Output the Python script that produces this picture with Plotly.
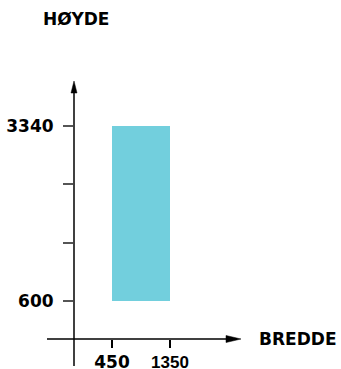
import plotly.graph_objects as go

# data
x_start = [450]
x_end = [1350]
y_start = [600]
y_end = [3340]
x_tick_vals = [450, 1350]
x_tick_text = ["<b>450</b>", '<span style="font-family:Liberation Sans"><b>1350</b></span>']
y_tick_vals = [600, 1513, 2427, 3340]
y_tick_text = ["<b>600</b>", "", "", "<b>3340</b>"]
x_title = "BREDDE"
y_title = "HØYDE"

W, H = 341, 369
# plot area in window pixels
PX0, PX1, PY0, PY1 = 74, 241, 81, 339
L, R, T, B = PX0, W - PX1, PY0, H - PY1
pw, ph = PX1 - PX0, PY1 - PY0


def px(x):
    return (x - PX0) / pw


def py(y):
    return (PY1 - y) / ph


centers = [(a + b) / 2 for a, b in zip(x_start, x_end)]
widths = [b - a for a, b in zip(x_start, x_end)]
heights = [b - a for a, b in zip(y_start, y_end)]

fig = go.Figure()
fig.add_trace(go.Bar(x=centers, y=heights, base=y_start, width=widths,
                     marker=dict(color="#72CFDD", line=dict(width=0)),
                     hoverinfo="skip"))

font_main = dict(family="DejaVu Sans", size=17, color="black")

fig.update_layout(
    width=W, height=H,
    margin=dict(l=L, r=R, t=T, b=B, pad=0, autoexpand=False),
    plot_bgcolor="white", paper_bgcolor="white",
    showlegend=False,
    xaxis=dict(range=[-139.7, 2451.7], showgrid=False, zeroline=False, showline=False,
               tickvals=x_tick_vals, ticktext=x_tick_text, ticks="outside", ticklen=8,
               tickwidth=1.5, tickcolor="black", tickfont=font_main, fixedrange=True,
               automargin=False),
    yaxis=dict(range=[5, 4044.6], showgrid=False, zeroline=False, showline=False,
               tickvals=y_tick_vals, ticktext=y_tick_text, ticks="outside", ticklen=10,
               tickwidth=2, tickcolor="#555555", tickfont=font_main, fixedrange=True,
               ticklabelstandoff=6, automargin=False),
)

# axis lines (extend past origin)
fig.add_shape(type="line", xref="paper", yref="paper", x0=px(47), x1=px(230), y0=0, y1=0,
              line=dict(color="black", width=1.5))
fig.add_shape(type="line", xref="paper", yref="paper", x0=0, x1=0, y0=py(366), y1=py(88),
              line=dict(color="black", width=1.5))
# arrowheads
fig.add_shape(type="path", xref="paper", yref="paper", xsizemode="pixel", ysizemode="pixel",
              xanchor=1, yanchor=0, path="M0,0 L-15,3.5 L-15,-3.5 Z",
              fillcolor="black", line=dict(color="black", width=0.5))
fig.add_shape(type="path", xref="paper", yref="paper", xsizemode="pixel", ysizemode="pixel",
              xanchor=0, yanchor=1, path="M0,0 L-3,-12 L3,-12 Z",
              fillcolor="black", line=dict(color="black", width=0.5))

fig.add_annotation(text="<b>" + y_title + "</b>", xref="paper", yref="paper", x=px(41),
                   y=py(18.5), xanchor="left", yanchor="middle", showarrow=False,
                   font=font_main)
fig.add_annotation(text="<b>" + x_title + "</b>", xref="paper", yref="paper", x=px(257), y=0,
                   xanchor="left", yanchor="middle", showarrow=False, font=font_main)

fig.write_html("out.html", config={"displayModeBar": False},
               post_script="document.body.style.margin='0';document.body.style.overflow='hidden';")
